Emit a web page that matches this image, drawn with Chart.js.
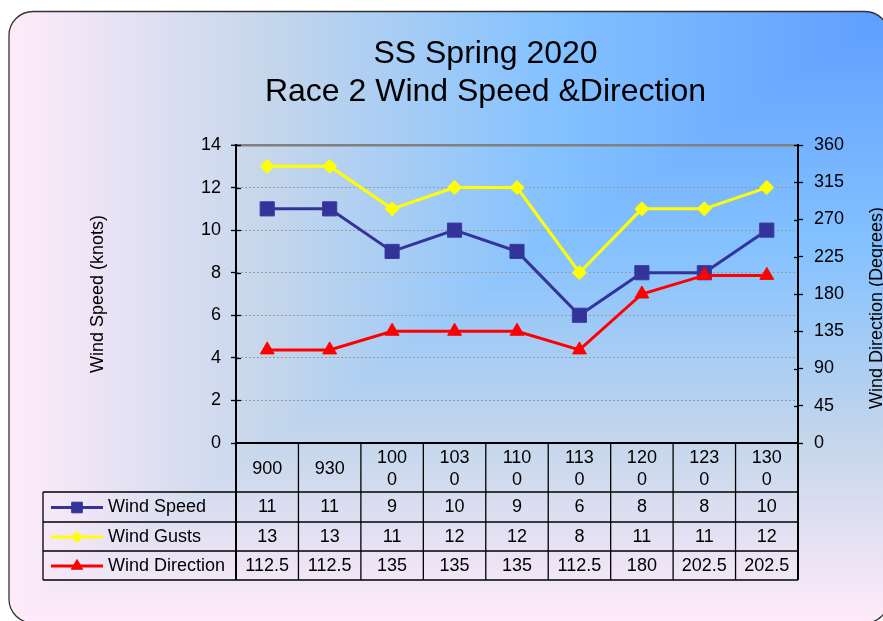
<!DOCTYPE html>
<html><head><meta charset="utf-8">
<script src="https://cdn.jsdelivr.net/npm/chart.js@4/dist/chart.umd.min.js"></script>
<style>html,body{margin:0;padding:0;background:#fff;overflow:hidden;}canvas{display:block;}</style>
</head><body>
<canvas id="c" width="883" height="621"></canvas>
<script>
// ---- data ----
const timeLabels = ['900', '930', ['100', '0'], ['103', '0'], ['110', '0'], ['113', '0'], ['120', '0'], ['123', '0'], ['130', '0']];
const windSpeed = [11, 11, 9, 10, 9, 6, 8, 8, 10];
const windGusts = [13, 13, 11, 12, 12, 8, 11, 11, 12];
const windDirection = [112.5, 112.5, 135, 135, 135, 112.5, 180, 202.5, 202.5];
const seriesNames = ['Wind Speed', 'Wind Gusts', 'Wind Direction'];
const titleLines = ['SS Spring 2020', 'Race 2 Wind Speed &Direction'];
const leftAxisTitle = 'Wind Speed (knots)';
const rightAxisTitle = 'Wind Direction (Degrees)';

const FONT = '"Liberation Sans", Arial, Helvetica, sans-serif';
const C_SPEED = '#333399', C_GUST = '#ffff00', C_DIR = '#ff0000';
// "Daybreak"-style gradient stops, shaded from the top-right corner
const BG_STOPS = [[0, '#5e9eff'], [0.39, '#85c2ff'], [0.70, '#c4d6eb'], [1, '#ffebfa']];

const bgPlugin = {
  id: 'bg',
  beforeDraw(chart) {
    const ctx = chart.ctx, W = chart.width, H = chart.height;
    ctx.save();
    ctx.fillStyle = '#fff';
    ctx.fillRect(0, 0, W, H);
    const x0 = 9, y0 = 11.5, x1 = 889, y1 = 623, r = 24;
    const path = () => {
      ctx.beginPath();
      ctx.moveTo(x0 + r, y0);
      ctx.lineTo(x1 - r, y0);
      ctx.arcTo(x1, y0, x1, y0 + r, r);
      ctx.lineTo(x1, y1 - r);
      ctx.arcTo(x1, y1, x1 - r, y1, r);
      ctx.lineTo(x0 + r, y1);
      ctx.arcTo(x0, y1, x0, y1 - r, r);
      ctx.lineTo(x0, y0 + r);
      ctx.arcTo(x0, y0, x0 + r, y0, r);
      ctx.closePath();
    };
    ctx.save();
    path();
    ctx.clip();
    const gh = ctx.createLinearGradient(x1, 0, x0, 0);
    const gv = ctx.createLinearGradient(0, y0, 0, y1);
    BG_STOPS.forEach(([p, c]) => { gh.addColorStop(p, c); gv.addColorStop(p, c); });
    ctx.fillStyle = gh;
    ctx.fillRect(x0 - 2, y0 - 2, x1 - x0 + 4, y1 - y0 + 4);
    ctx.fillStyle = gv;
    ctx.beginPath();
    ctx.moveTo(x1 + 2, y0 - 2);
    ctx.lineTo(x1 + 2, y1 + 2);
    ctx.lineTo(x0 - 2, y1 + 2);
    ctx.closePath();
    ctx.fill();
    ctx.restore();
    path();
    ctx.strokeStyle = '#333';
    ctx.lineWidth = 1.3;
    ctx.stroke();
    ctx.restore();
  }
};

const innerTicksPlugin = {
  id: 'innerTicks',
  beforeDatasetsDraw(chart) {
    const ctx = chart.ctx, ca = chart.chartArea;
    ctx.save();
    ctx.strokeStyle = '#000';
    ctx.lineWidth = 1.3;
    const ys = chart.scales.y, yr = chart.scales.y1;
    ys.ticks.forEach(t => {
      if (t.value === 0) return;
      const p = Math.round(ys.getPixelForValue(t.value)) + 0.5;
      ctx.beginPath(); ctx.moveTo(ca.left, p); ctx.lineTo(ca.left + 5, p); ctx.stroke();
    });
    yr.ticks.forEach(t => {
      if (t.value === 0) return;
      const p = Math.round(yr.getPixelForValue(t.value)) + 0.5;
      ctx.beginPath(); ctx.moveTo(ca.right - 4, p); ctx.lineTo(ca.right, p); ctx.stroke();
    });
    ctx.restore();
  }
};

function drawKey(ctx, x, y, color, style, radius) {
  ctx.save();
  ctx.strokeStyle = color;
  ctx.lineWidth = 3;
  ctx.beginPath(); ctx.moveTo(x - 26, y); ctx.lineTo(x + 26, y); ctx.stroke();
  ctx.fillStyle = color;
  ctx.lineWidth = 1;
  if (Chart.helpers && Chart.helpers.drawPoint) {
    Chart.helpers.drawPoint(ctx, {pointStyle: style, radius: radius, borderWidth: 1, rotation: 0}, x, y);
  }
  ctx.restore();
}

const tablePlugin = {
  id: 'table',
  afterDraw(chart) {
    const ctx = chart.ctx, ca = chart.chartArea, xs = chart.scales.x;
    const rows = [ca.bottom, 492, 522, 551, 580];
    const legendLeft = 43;
    const half = (xs.getPixelForValue(1) - xs.getPixelForValue(0)) / 2;
    ctx.save();
    ctx.strokeStyle = '#000';
    ctx.lineWidth = 1.3;
    for (let i = 1; i < rows.length; i++) {
      ctx.beginPath(); ctx.moveTo(legendLeft, rows[i]); ctx.lineTo(ca.right, rows[i]); ctx.stroke();
    }
    for (let i = 0; i <= timeLabels.length; i++) {
      const x = i === 0 ? ca.left : (i === timeLabels.length ? ca.right : xs.getPixelForValue(i) - half);
      ctx.lineWidth = (i === 0 || i === timeLabels.length) ? 2 : 1.3;
      ctx.beginPath(); ctx.moveTo(x, ca.bottom); ctx.lineTo(x, rows[rows.length - 1]); ctx.stroke();
    }
    ctx.lineWidth = 1.3;
    ctx.beginPath(); ctx.moveTo(legendLeft, rows[1]); ctx.lineTo(legendLeft, rows[4]); ctx.stroke();

    const series = [
      {name: seriesNames[0], vals: windSpeed, color: C_SPEED, style: 'rect', r: 7.5},
      {name: seriesNames[1], vals: windGusts, color: C_GUST, style: 'rectRot', r: 5.5},
      {name: seriesNames[2], vals: windDirection, color: C_DIR, style: 'triangle', r: 6.5}
    ];
    ctx.font = '18px ' + FONT;
    ctx.textBaseline = 'middle';
    series.forEach((s, k) => {
      const yc = (rows[k + 1] + rows[k + 2]) / 2 + 0.5;
      drawKey(ctx, 77, yc, s.color, s.style, s.r);
      ctx.fillStyle = '#000';
      ctx.textAlign = 'left';
      ctx.fillText(s.name, 108, yc);
      ctx.textAlign = 'center';
      s.vals.forEach((v, i) => ctx.fillText(String(v), xs.getPixelForValue(i), yc));
    });
    // right axis title (reads bottom-to-top)
    ctx.save();
    ctx.translate(877, (ca.top + ca.bottom) / 2 + 14);
    ctx.rotate(-Math.PI / 2);
    ctx.font = '18px ' + FONT;
    ctx.textAlign = 'center';
    ctx.fillStyle = '#000';
    ctx.fillText(rightAxisTitle, 0, 0);
    ctx.restore();
    ctx.restore();
  }
};

const chart = new Chart(document.getElementById('c'), {
  type: 'line',
  data: {
    labels: timeLabels,
    datasets: [
      {label: seriesNames[0], data: windSpeed, yAxisID: 'y', borderColor: C_SPEED, backgroundColor: C_SPEED,
       borderWidth: 3, pointStyle: 'rect', pointRadius: 10, pointBorderWidth: 1, pointBorderColor: '#3a3aa0', order: 1},
      {label: seriesNames[1], data: windGusts, yAxisID: 'y', borderColor: C_GUST, backgroundColor: C_GUST,
       borderWidth: 3, pointStyle: 'rectRot', pointRadius: 7, pointBorderWidth: 1, order: 2},
      {label: seriesNames[2], data: windDirection, yAxisID: 'y1', borderColor: C_DIR, backgroundColor: C_DIR,
       borderWidth: 3, pointStyle: 'triangle', pointRadius: 8, pointBorderWidth: 1, order: 0}
    ]
  },
  options: {
    responsive: false,
    devicePixelRatio: 1,
    animation: false,
    layout: {padding: {left: 88, right: 0, top: 0, bottom: 0}},
    elements: {line: {tension: 0, fill: false}},
    plugins: {
      legend: {display: false},
      tooltip: {enabled: false},
      title: {display: true, text: titleLines, color: '#000',
              font: {family: FONT, size: 32, weight: 'normal', lineHeight: 1.2},
              padding: {top: 34.6, bottom: 33.6}}
    },
    scales: {
      x: {
        type: 'category', offset: true,
        grid: {display: false, drawTicks: false},
        border: {display: true, color: '#000', width: 2},
        ticks: {color: '#000', font: {family: FONT, size: 18, lineHeight: 1.2}, padding: 15,
                autoSkip: false, maxRotation: 0, minRotation: 0, crossAlign: 'center'},
        afterFit: s => { s.height = 178; }
      },
      y: {
        position: 'left', min: 0, max: 14,
        ticks: {stepSize: 2, color: '#000', font: {family: FONT, size: 18}, padding: 10},
        grid: {
          color: c => c.tick && c.tick.value === 14 ? '#808080' : (c.tick && c.tick.value === 0 ? 'rgba(0,0,0,0)' : '#9a9a9a'),
          lineWidth: c => c.tick && c.tick.value === 14 ? 2.5 : 1,
          tickColor: '#000', tickLength: 5, tickWidth: 1.3
        },
        border: {color: '#000', width: 2, dash: c => (c.tick && c.tick.value === 14) ? [] : [2, 2]},
        title: {display: true, text: leftAxisTitle, color: '#000', font: {family: FONT, size: 18}, padding: -1},
        afterFit: s => { s.width = 148; }
      },
      y1: {
        position: 'right', min: 0, max: 360,
        ticks: {stepSize: 45, color: '#000', font: {family: FONT, size: 18}, padding: 11},
        grid: {drawOnChartArea: false, tickColor: '#000', tickLength: 5, tickWidth: 1.3},
        border: {color: '#000', width: 2},
        afterFit: s => { s.width = 85; }
      }
    }
  },
  plugins: [bgPlugin, innerTicksPlugin, tablePlugin]
});
</script>
</body></html>
